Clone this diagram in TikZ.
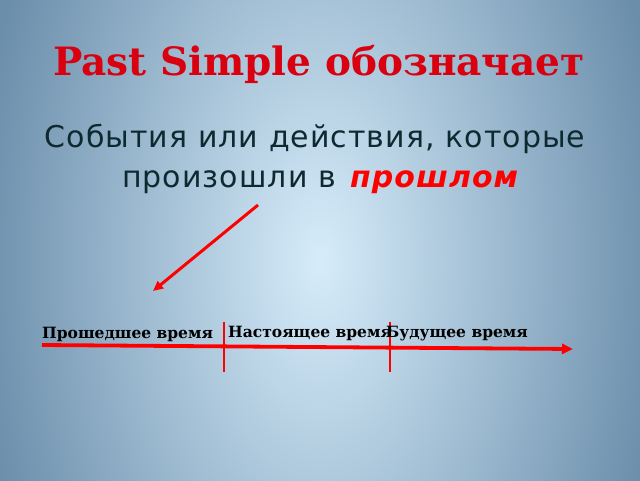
\documentclass[tikz,border=0pt]{standalone}
\usepackage{fontspec}
\setmainfont{DejaVu Serif}
\newfontfamily\bodyfont[LetterSpace=3.5]{DejaVu Sans}
\usetikzlibrary{arrows.meta}
\definecolor{bgin}{HTML}{D6ECFA}
\definecolor{bgout}{HTML}{6B8EAB}
\definecolor{titlered}{HTML}{D90010}
\definecolor{bodytxt}{HTML}{0E2A30}
\tikzset{
  redline/.style={draw=red, line width=3pt},
  redarrow/.style={redline, -{Triangle[length=10pt,width=9pt]}},
  tickline/.style={draw=red, line width=2.8pt},
  tlabel/.style={font=\bfseries\fontsize{15.5}{18}\selectfont, anchor=base west, inner sep=0pt, text=black},
}
\begin{document}
\begin{tikzpicture}[x=1pt,y=-1pt]
\useasboundingbox (0,0) rectangle (640,480);
\begin{scope}
\clip (0,0) rectangle (640,480);
\fill[bgout] (0,0) rectangle (640,480);
\shade[inner color=bgin, outer color=bgout] (320,260) ellipse (345 and 600);
\end{scope}
% title
\node[anchor=base, inner sep=0pt, text=titlered, font=\bfseries\fontsize{39}{44}\selectfont] (title) at (319,75) {Past Simple обозначает};
% body
\node[anchor=base, inner sep=0pt, text=bodytxt, font=\bodyfont\fontsize{30}{34}\selectfont] (line1) at (315,147) {События или действия, которые};
\node[anchor=base west, inner sep=0pt, text=bodytxt, font=\bodyfont\fontsize{30}{34}\selectfont] (line2) at (122,187) {произошли в};
\node[anchor=base west, inner sep=0pt, text=red, font=\bodyfont\bfseries\itshape\fontsize{30}{34}\selectfont] (past) at (350,187) {прошлом};
% diagonal arrow
\coordinate (d1) at (258,205);
\coordinate (d2) at (153,291);
\draw[redarrow] (d1) -- (d2);
% timeline
\coordinate (t1) at (42,345);
\coordinate (t2) at (573,349);
\draw[redline, line width=3.8pt, -{Triangle[length=11pt,width=10pt]}] (t1) -- (t2);
\coordinate (v1a) at (224,322);
\coordinate (v1b) at (224,372);
\coordinate (v2a) at (390,322);
\coordinate (v2b) at (390,372);
\draw[tickline] (v1a) -- (v1b);
\draw[tickline] (v2a) -- (v2b);
\node[tlabel] (pastl) at (42,338) {Прошедшее время};
\node[tlabel] (presl) at (228,337) {Настоящее время};
\node[tlabel] (futl) at (386,337) {Будущее время};
\end{tikzpicture}
\end{document}
